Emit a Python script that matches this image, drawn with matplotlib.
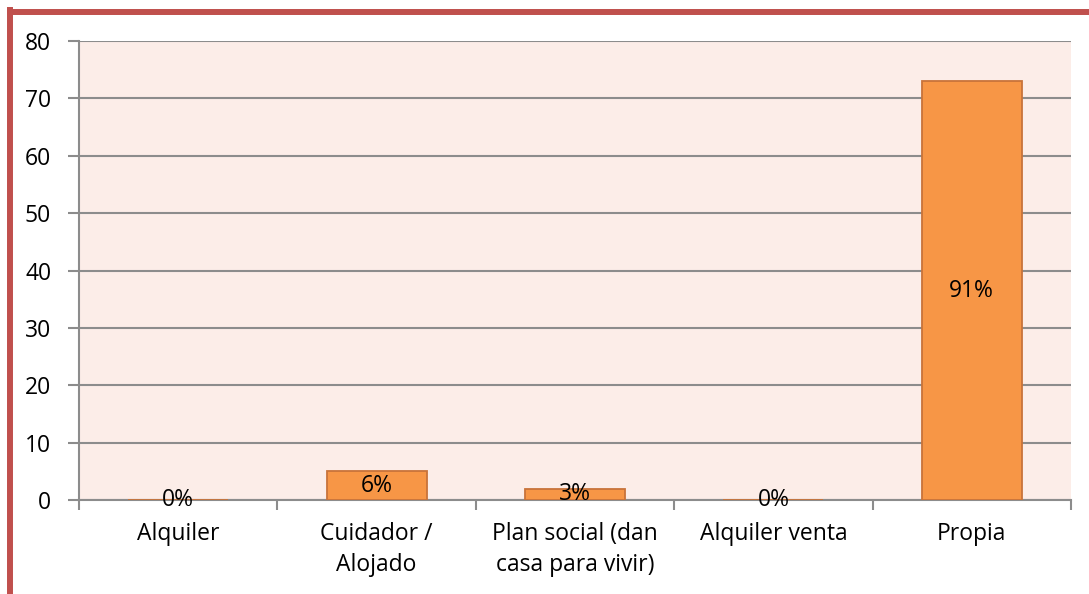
import matplotlib
matplotlib.use("Agg")
import matplotlib.pyplot as plt
from matplotlib.lines import Line2D

categories = ["Alquiler", "Cuidador /\nAlojado", "Plan social (dan\ncasa para vivir)", "Alquiler venta", "Propia"]
values = [0, 5, 2, 0, 73]
labels = ["0%", "6%", "3%", "0%", "91%"]
yticks = [0, 10, 20, 30, 40, 50, 60, 70, 80]

W, H = 1089, 594
fig = plt.figure(figsize=(W / 100, H / 100), dpi=100)
fig.patch.set_facecolor("white")
left, right, top, bottom = 79, 1071, 41, 500
ax = fig.add_axes([left / W, 1 - bottom / H, (right - left) / W, (bottom - top) / H])
ax.set_facecolor("#FCEDE8")

font = "Open Sans"
fs = 16.5

x = list(range(len(categories)))
ax.bar(x, values, width=0.505, color="#F79646", edgecolor="#C8733A", linewidth=1.3, zorder=3)
for xi, v, lab in zip(x, values, labels):
    ax.text(xi, v / 2, lab, ha="center", va="center", fontsize=fs, family=font, color="black", zorder=4)

ax.set_xlim(-0.5, len(categories) - 0.5)
ax.set_ylim(0, 80)
ax.set_yticks(yticks)
ax.set_yticklabels([str(t) for t in yticks], fontsize=fs, family=font)
ax.yaxis.grid(True, color="#8C8C8C", linewidth=1.5, zorder=0)
ax.set_axisbelow(True)

ax.set_xticks(x)
ax.set_xticklabels(categories, fontsize=fs, family=font, linespacing=1.4)
ax.set_xticks([i - 0.5 for i in range(len(categories) + 1)], minor=True)
ax.tick_params(axis="x", which="major", length=0, pad=16)
ax.tick_params(axis="x", which="minor", length=7, width=1.5, color="#8C8C8C")
ax.tick_params(axis="y", length=8, width=1.5, color="#8C8C8C", pad=12)

for s in ["top", "right"]:
    ax.spines[s].set_visible(False)
for s in ["left", "bottom"]:
    ax.spines[s].set_color("#8C8C8C")
    ax.spines[s].set_linewidth(1.5)

# red frame (top and left)
red = "#C0504D"
fig.add_artist(Line2D([10 / W, 1.0], [1 - 11.5 / H, 1 - 11.5 / H], color=red, linewidth=4.3, transform=fig.transFigure))
fig.add_artist(Line2D([10 / W, 10 / W], [0, 1 - 9.5 / H], color=red, linewidth=4.3, transform=fig.transFigure))

fig.savefig("out.png", dpi=100, facecolor="white")
